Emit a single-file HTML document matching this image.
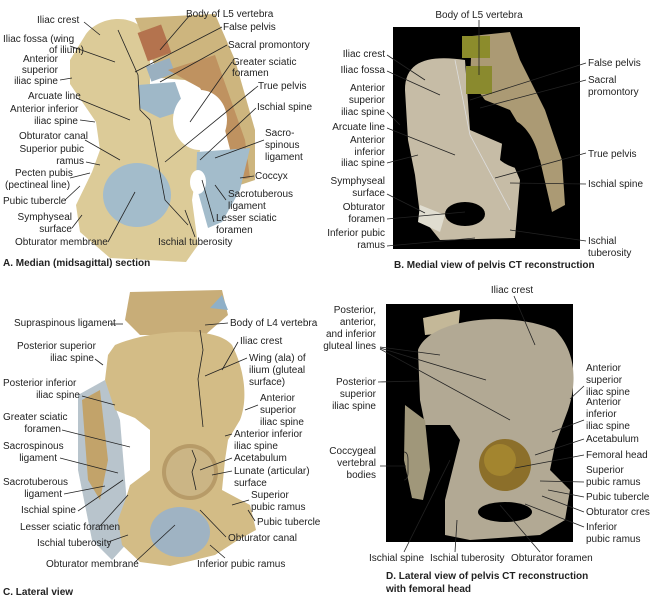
<!DOCTYPE html>
<html><head><meta charset="utf-8"><style>
html,body{margin:0;padding:0;background:#fff;}
svg{display:block;}
text{font-family:"Liberation Sans",sans-serif;font-size:10px;fill:#222;}
.t{font-weight:bold;font-size:10px;}
.l{stroke:#222;stroke-width:0.8;fill:none;}
.lw{stroke:#ddd;stroke-width:0.8;fill:none;}
</style></head><body>
<svg width="650" height="604" viewBox="0 0 650 604" xmlns="http://www.w3.org/2000/svg">
<!-- Panel A -->
<path d="M86,34 C98,18 125,14 140,26 L150,45 L150,88 L178,92 L200,150 L192,200 L198,245 L186,262 L110,258 L80,232 L76,205 L92,172 L100,150 L96,122 L70,84 L70,60 Z" fill="#dccb98"/>
<path d="M135,18 L215,14 L235,60 L255,130 L255,180 L240,185 L232,140 L215,95 L185,80 L160,78 Z" fill="#cdb57e"/>
<rect x="142" y="28" width="25" height="30" fill="#b4734e" transform="rotate(-20 154 43)"/>
<rect x="148" y="62" width="25" height="16" fill="#9ab0c0" transform="rotate(-20 160 70)"/>
<path d="M168,70 L215,55 L245,140 L250,178 L238,180 L225,130 L200,88 Z" fill="#bf9260"/>
<path d="M138,85 L175,82 L185,110 L160,118 L140,108 Z" fill="#9fb8c8"/>
<ellipse cx="200" cy="120" rx="27" ry="30" fill="#fff"/>
<path d="M197,152 L250,148 L240,190 L222,222 L208,228 L196,185 Z" fill="#a3bccb"/>
<ellipse cx="198" cy="182" rx="8" ry="12" fill="#fff"/>
<ellipse cx="137" cy="195" rx="34" ry="32" fill="#a3bccb"/>
<path class="l" d="M118,30 L138,75 L140,110 L150,120 L165,200 L188,225"/>
<text x="186" y="17">Body of L5 vertebra</text>
<text x="37" y="23">Iliac crest</text>
<text x="223" y="30">False pelvis</text>
<text x="3" y="42">Iliac fossa (wing</text>
<text x="84" y="53" text-anchor="end">of ilium)</text>
<text x="228" y="48">Sacral promontory</text>
<text x="58" y="62" text-anchor="end">Anterior</text>
<text x="58" y="73" text-anchor="end">superior</text>
<text x="58" y="84" text-anchor="end">iliac spine</text>
<text x="232" y="65">Greater sciatic</text>
<text x="232" y="76">foramen</text>
<text x="258" y="89">True pelvis</text>
<text x="28" y="99">Arcuate line</text>
<text x="10" y="112">Anterior inferior</text>
<text x="78" y="124" text-anchor="end">iliac spine</text>
<text x="257" y="110">Ischial spine</text>
<text x="265" y="136">Sacro-</text>
<text x="265" y="148">spinous</text>
<text x="265" y="160">ligament</text>
<text x="19" y="139">Obturator canal</text>
<text x="84" y="152" text-anchor="end">Superior pubic</text>
<text x="84" y="164" text-anchor="end">ramus</text>
<text x="15" y="176">Pecten pubis</text>
<text x="5" y="188">(pectineal line)</text>
<text x="255" y="179">Coccyx</text>
<text x="3" y="204">Pubic tubercle</text>
<text x="228" y="197">Sacrotuberous</text>
<text x="228" y="209">ligament</text>
<text x="72" y="220" text-anchor="end">Symphyseal</text>
<text x="72" y="232" text-anchor="end">surface</text>
<text x="216" y="221">Lesser sciatic</text>
<text x="216" y="233">foramen</text>
<text x="15" y="245">Obturator membrane</text>
<text x="158" y="245">Ischial tuberosity</text>
<text x="3" y="266" class="t">A. Median (midsagittal) section</text>
<g>
<path class="l" d="M84,22 L100,35"/><path class="l" d="M190,15 L160,50"/><path class="l" d="M222,27 L135,72"/><path class="l" d="M70,46 L115,62"/>
<path class="l" d="M227,45 L160,82"/><path class="l" d="M60,80 L72,78"/><path class="l" d="M232,62 L190,122"/><path class="l" d="M258,86 L165,162"/>
<path class="l" d="M76,98 L130,120"/><path class="l" d="M80,120 L95,122"/><path class="l" d="M256,108 L200,160"/><path class="l" d="M264,140 L215,158"/>
<path class="l" d="M85,140 L120,160"/><path class="l" d="M86,162 L100,165"/><path class="l" d="M70,178 L90,173"/><path class="l" d="M254,176 L240,178"/>
<path class="l" d="M65,200 L80,186"/><path class="l" d="M226,200 L215,185"/><path class="l" d="M72,228 L82,215"/><path class="l" d="M214,222 L202,180"/>
<path class="l" d="M108,242 L135,192"/><path class="l" d="M195,237 L185,210"/>
</g>

<!-- Panel B -->
<rect x="393" y="27" width="187" height="222" fill="#000"/>
<path d="M405,90 C405,60 430,55 465,60 L470,130 L505,145 L520,180 L515,238 L440,240 L420,215 L415,175 L408,140 Z" fill="#c6bca6"/>
<path d="M472,36 L510,32 L520,60 L545,110 L562,160 L565,205 L552,212 L540,160 L510,110 L485,100 L470,80 Z" fill="#ab9a74"/>
<rect x="462" y="36" width="28" height="22" fill="#8c8c2c"/>
<rect x="466" y="66" width="26" height="28" fill="#8a8a2e"/>
<path d="M505,120 C520,115 538,140 540,165 C530,172 512,170 500,160 Z" fill="#000"/>
<ellipse cx="465" cy="214" rx="20" ry="12" fill="#000"/>
<path d="M420,205 L445,215 L440,232 L418,222 Z" fill="#e0ddd0"/>
<g>
<text x="479" y="18" text-anchor="middle">Body of L5 vertebra</text>
<text x="385" y="57" text-anchor="end">Iliac crest</text>
<text x="385" y="73" text-anchor="end">Iliac fossa</text>
<text x="385" y="91" text-anchor="end">Anterior</text>
<text x="385" y="103" text-anchor="end">superior</text>
<text x="385" y="115" text-anchor="end">iliac spine</text>
<text x="385" y="130" text-anchor="end">Arcuate line</text>
<text x="385" y="143" text-anchor="end">Anterior</text>
<text x="385" y="155" text-anchor="end">inferior</text>
<text x="385" y="166" text-anchor="end">iliac spine</text>
<text x="385" y="184" text-anchor="end">Symphyseal</text>
<text x="385" y="196" text-anchor="end">surface</text>
<text x="385" y="210" text-anchor="end">Obturator</text>
<text x="385" y="222" text-anchor="end">foramen</text>
<text x="385" y="236" text-anchor="end">Inferior pubic</text>
<text x="385" y="248" text-anchor="end">ramus</text>
<text x="588" y="66">False pelvis</text>
<text x="588" y="83">Sacral</text>
<text x="588" y="95">promontory</text>
<text x="588" y="157">True pelvis</text>
<text x="588" y="187">Ischial spine</text>
<text x="588" y="244">Ischial</text>
<text x="588" y="256">tuberosity</text>
<text x="394" y="268" class="t">B. Medial view of pelvis CT reconstruction</text>
</g>
<g>
<path class="l" d="M479,20 L479,75"/><path class="l" d="M387,55 L425,80"/><path class="l" d="M387,71 L440,95"/><path class="l" d="M387,112 L400,125"/>
<path class="l" d="M387,128 L455,155"/><path class="l" d="M387,163 L418,155"/><path class="l" d="M387,194 L425,213"/><path class="l" d="M387,219 L465,212"/><path class="l" d="M387,246 L475,238"/>
<path class="l" d="M586,63 L470,100"/><path class="l" d="M586,80 L480,108"/><path class="l" d="M586,153 L495,178"/><path class="l" d="M586,184 L510,183"/><path class="l" d="M586,241 L510,230"/>
<path class="lw" d="M455,60 L470,135 L510,210"/>
</g>

<!-- Panel C -->
<path d="M130,292 L222,290 L228,315 L205,335 L140,335 L125,320 Z" fill="#c8ad78"/>
<path d="M210,308 L222,295 L228,310 Z" fill="#8fb0c8"/>
<path d="M78,395 L105,380 L120,420 L130,540 L112,560 L92,540 L78,470 Z" fill="#b8c4cc"/>
<path d="M82,400 L100,390 L108,460 L100,500 L88,480 Z" fill="#c2a36a"/>
<path d="M115,345 C150,330 215,325 232,345 C245,370 248,400 240,420 L228,440 L225,460 L222,490 L250,505 L256,530 L238,540 L215,555 L170,566 L140,562 L122,545 L118,520 L126,498 L130,485 L150,470 L150,430 L135,418 L115,410 L105,380 L108,355 Z" fill="#d3bc86"/>
<circle cx="190" cy="472" r="28" fill="#b79b68"/>
<circle cx="190" cy="472" r="24" fill="#cbb585"/>
<ellipse cx="180" cy="532" rx="30" ry="25" fill="#9fb3c3"/>
<path d="M130,420 L150,430 L150,470 L130,485 Z" fill="#fff"/>
<path class="l" d="M200,330 L203,350 L198,379 L203,427"/>
<path class="l" d="M192,450 L196,460 L192,472 L196,490"/>
<g>
<text x="14" y="326">Supraspinous ligament</text>
<text x="230" y="326">Body of L4 vertebra</text>
<text x="17" y="349">Posterior superior</text>
<text x="94" y="361" text-anchor="end">iliac spine</text>
<text x="240" y="344">Iliac crest</text>
<text x="249" y="361">Wing (ala) of</text>
<text x="249" y="373">ilium (gluteal</text>
<text x="249" y="385">surface)</text>
<text x="3" y="386">Posterior inferior</text>
<text x="80" y="398" text-anchor="end">iliac spine</text>
<text x="260" y="401">Anterior</text>
<text x="260" y="413">superior</text>
<text x="260" y="425">iliac spine</text>
<text x="3" y="420">Greater sciatic</text>
<text x="61" y="432" text-anchor="end">foramen</text>
<text x="234" y="437">Anterior inferior</text>
<text x="234" y="449">iliac spine</text>
<text x="3" y="449">Sacrospinous</text>
<text x="57" y="461" text-anchor="end">ligament</text>
<text x="234" y="461">Acetabulum</text>
<text x="234" y="474">Lunate (articular)</text>
<text x="234" y="486">surface</text>
<text x="3" y="485">Sacrotuberous</text>
<text x="62" y="497" text-anchor="end">ligament</text>
<text x="76" y="513" text-anchor="end">Ischial spine</text>
<text x="251" y="498">Superior</text>
<text x="251" y="510">pubic ramus</text>
<text x="20" y="530">Lesser sciatic foramen</text>
<text x="257" y="525">Pubic tubercle</text>
<text x="37" y="546">Ischial tuberosity</text>
<text x="228" y="541">Obturator canal</text>
<text x="46" y="567">Obturator membrane</text>
<text x="197" y="567">Inferior pubic ramus</text>
<text x="3" y="595" class="t">C. Lateral view</text>
</g>
<g>
<path class="l" d="M110,324 L123,324"/><path class="l" d="M228,323 L205,325"/><path class="l" d="M238,342 L222,370"/><path class="l" d="M247,358 L205,376"/>
<path class="l" d="M95,359 L103,365"/><path class="l" d="M82,396 L115,405"/><path class="l" d="M258,405 L245,410"/><path class="l" d="M62,430 L130,447"/>
<path class="l" d="M232,434 L225,436"/><path class="l" d="M60,458 L118,473"/><path class="l" d="M232,458 L200,470"/><path class="l" d="M232,471 L212,475"/>
<path class="l" d="M64,494 L105,486"/><path class="l" d="M78,511 L123,480"/><path class="l" d="M249,500 L232,505"/><path class="l" d="M100,526 L128,495"/>
<path class="l" d="M255,521 L248,510"/><path class="l" d="M108,542 L128,535"/><path class="l" d="M226,537 L200,510"/><path class="l" d="M134,563 L175,525"/><path class="l" d="M225,558 L210,545"/>
</g>

<!-- Panel D -->
<rect x="386" y="304" width="187" height="238" fill="#000"/>
<path d="M423,318 L460,310 L458,332 L425,335 Z" fill="#c4b898"/>
<path d="M418,350 C430,318 510,310 555,330 C575,350 578,380 568,410 L555,445 L550,470 L570,490 L565,520 L540,535 L470,540 L445,535 L445,500 L455,460 L460,440 L450,425 L425,425 L420,400 Z" fill="#b2a994"/>
<path d="M405,405 L425,420 L430,470 L423,500 L412,498 L404,460 Z" fill="#a0977a"/>
<path d="M428,428 L455,432 L450,470 L440,490 L432,470 Z" fill="#000"/>
<circle cx="505" cy="465" r="26" fill="#8c6f2a"/>
<circle cx="500" cy="460" r="16" fill="#a3852f"/>
<ellipse cx="505" cy="512" rx="27" ry="10" fill="#000"/>
<g>
<text x="512" y="293" text-anchor="middle">Iliac crest</text>
<text x="376" y="313" text-anchor="end">Posterior,</text>
<text x="376" y="325" text-anchor="end">anterior,</text>
<text x="376" y="337" text-anchor="end">and inferior</text>
<text x="376" y="349" text-anchor="end">gluteal lines</text>
<text x="376" y="385" text-anchor="end">Posterior</text>
<text x="376" y="397" text-anchor="end">superior</text>
<text x="376" y="409" text-anchor="end">iliac spine</text>
<text x="376" y="454" text-anchor="end">Coccygeal</text>
<text x="376" y="466" text-anchor="end">vertebral</text>
<text x="376" y="478" text-anchor="end">bodies</text>
<text x="586" y="371">Anterior</text>
<text x="586" y="383">superior</text>
<text x="586" y="395">iliac spine</text>
<text x="586" y="405">Anterior</text>
<text x="586" y="417">inferior</text>
<text x="586" y="429">iliac spine</text>
<text x="586" y="442">Acetabulum</text>
<text x="586" y="458">Femoral head</text>
<text x="586" y="473">Superior</text>
<text x="586" y="485">pubic ramus</text>
<text x="586" y="500">Pubic tubercle</text>
<text x="586" y="515">Obturator crest</text>
<text x="586" y="530">Inferior</text>
<text x="586" y="542">pubic ramus</text>
<text x="369" y="561">Ischial spine</text>
<text x="430" y="561">Ischial tuberosity</text>
<text x="511" y="561">Obturator foramen</text>
<text x="386" y="579" class="t">D. Lateral view of pelvis CT reconstruction</text>
<text x="386" y="592" class="t">with femoral head</text>
</g>
<g>
<path class="l" d="M514,296 L535,345"/><path class="l" d="M380,347 L440,355"/><path class="l" d="M380,348 L486,380"/><path class="l" d="M380,349 L510,420"/>
<path class="l" d="M378,382 L418,381"/><path class="l" d="M380,466 L406,466"/><path class="l" d="M404,452 Q408,452 408,460 L408,466 L408,472 Q408,480 404,480"/>
<path class="l" d="M584,386 L570,399"/><path class="l" d="M584,420 L552,432"/><path class="l" d="M584,439 L535,455"/><path class="l" d="M584,455 L515,468"/>
<path class="l" d="M584,482 L540,481"/><path class="l" d="M584,497 L548,490"/><path class="l" d="M584,512 L542,496"/><path class="l" d="M584,527 L525,504"/>
<path class="l" d="M404,552 L450,460"/><path class="l" d="M455,552 L457,520"/><path class="l" d="M540,552 L500,505"/>
</g>
</svg>
</body></html>
